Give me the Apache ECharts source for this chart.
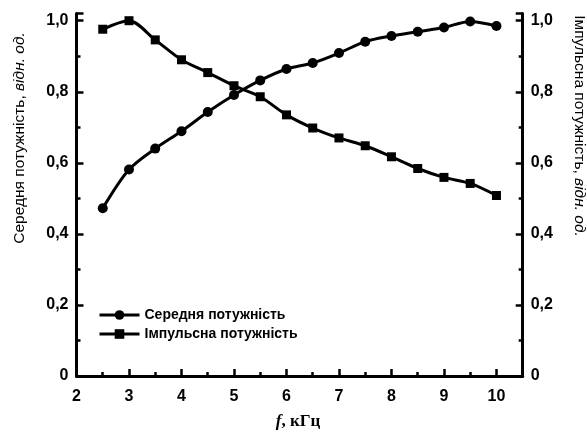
<!DOCTYPE html>
<html>
<head>
<meta charset="utf-8">
<script src="https://cdn.jsdelivr.net/npm/echarts@6/dist/echarts.min.js"></script>
<style>
  html, body { margin: 0; padding: 0; background: #fff; }
  #main { width: 587px; height: 432px; }
</style>
</head>
<body>
<div id="main"></div>
<script>
// частота, кГц
const freq = [2.5, 3, 3.5, 4, 4.5, 5, 5.5, 6, 6.5, 7, 7.5, 8, 8.5, 9, 9.5, 10]
// середня потужність, відн. од.
const avgPower = [0.472, 0.581, 0.640, 0.689, 0.743, 0.791, 0.832, 0.864, 0.881, 0.909, 0.941, 0.957, 0.969, 0.981, 0.998, 0.985]
// імпульсна потужність, відн. од.
const pulsePower = [0.976, 1.0, 0.946, 0.890, 0.854, 0.817, 0.786, 0.735, 0.698, 0.670, 0.648, 0.617, 0.584, 0.559, 0.542, 0.508]

const seriesNames = ['Середня потужність', 'Імпульсна потужність']

const font = 'Liberation Sans, Arial, sans-serif'
const fmt = v => (v === 0 ? '0' : v.toFixed(1).replace('.', ','))

let myChart = echarts.init(document.getElementById('main'))

const yAxisCommon = {
  type: 'value',
  min: 0,
  max: 1.02,
  interval: 0.2,
  splitLine: { show: false },
  axisLine: { show: true, lineStyle: { color: '#000', width: 3 } },
  axisTick: { show: true, inside: true, length: 7, lineStyle: { color: '#000', width: 2.5 } },
  minorTick: { show: true, splitNumber: 2, length: 4, lineStyle: { color: '#000', width: 2.5 } },
  axisLabel: {
    color: '#000',
    fontFamily: font,
    fontWeight: 'bold',
    fontSize: 16,
    margin: 8,
    showMaxLabel: false,
    formatter: fmt,
  },
}

let option = {
  animation: false,
  backgroundColor: '#fff',
  grid: { left: 76.5, right: 64.3, top: 13.6, bottom: 56 },
  legend: {
    data: seriesNames,
    orient: 'vertical',
    left: 98,
    top: 308,
    padding: 0,
    itemWidth: 40,
    itemHeight: 12,
    itemGap: 5,
    lineStyle: { width: 3, color: '#000' },
    textStyle: { color: '#000', fontFamily: font, fontWeight: 'bold', fontSize: 14 },
  },
  xAxis: {
    type: 'value',
    min: 2,
    max: 10.5,
    interval: 1,
    splitLine: { show: false },
    axisLine: { lineStyle: { color: '#000', width: 3 } },
    axisTick: { inside: true, length: 7, lineStyle: { color: '#000', width: 2.5 } },
    minorTick: { show: true, splitNumber: 2, length: 4, lineStyle: { color: '#000', width: 2.5 } },
    axisLabel: {
      color: '#000',
      fontFamily: font,
      fontWeight: 'bold',
      fontSize: 16,
      margin: 13,
      showMaxLabel: false,
    },
  },
  yAxis: [
    Object.assign({ position: 'left' }, yAxisCommon),
    Object.assign({ position: 'right' }, yAxisCommon),
  ],
  graphic: [
    {
      type: 'text',
      x: 20,
      y: 138,
      rotation: Math.PI / 2,
      style: {
        text: 'Середня потужність, {i|відн. од.}',
        fill: '#000',
        font: '15.5px ' + font,
        align: 'center',
        verticalAlign: 'middle',
        rich: { i: { fontStyle: 'italic', fontSize: 15.5, fontFamily: font, fill: '#000' } },
      },
    },
    {
      type: 'text',
      x: 579,
      y: 126,
      rotation: -Math.PI / 2,
      style: {
        text: 'Імпульсна потужність, {i|відн. од.}',
        fill: '#000',
        font: '15.5px ' + font,
        align: 'center',
        verticalAlign: 'middle',
        rich: { i: { fontStyle: 'italic', fontSize: 15.5, fontFamily: font, fill: '#000' } },
      },
    },
    {
      type: 'text',
      x: 298,
      y: 422,
      style: {
        text: '{f|f}, кГц',
        fill: '#000',
        font: 'bold 17px Liberation Serif, Times New Roman, serif',
        align: 'center',
        verticalAlign: 'middle',
        rich: {
          f: { fontStyle: 'italic', fontWeight: 'bold', fontSize: 17, fontFamily: 'Liberation Serif, serif', fill: '#000' },
        },
      },
    },
  ],
  series: [
    {
      name: seriesNames[0],
      type: 'line',
      yAxisIndex: 0,
      smooth: 0.3,
      symbol: 'circle',
      symbolSize: 10,
      itemStyle: { color: '#000' },
      lineStyle: { color: '#000', width: 3 },
      data: freq.map((f, i) => [f, avgPower[i]]),
    },
    {
      name: seriesNames[1],
      type: 'line',
      yAxisIndex: 1,
      smooth: 0.3,
      symbol: 'rect',
      symbolSize: 9,
      itemStyle: { color: '#000' },
      lineStyle: { color: '#000', width: 3 },
      data: freq.map((f, i) => [f, pulsePower[i]]),
    },
  ],
}

myChart.setOption(option)
</script>
</body>
</html>
